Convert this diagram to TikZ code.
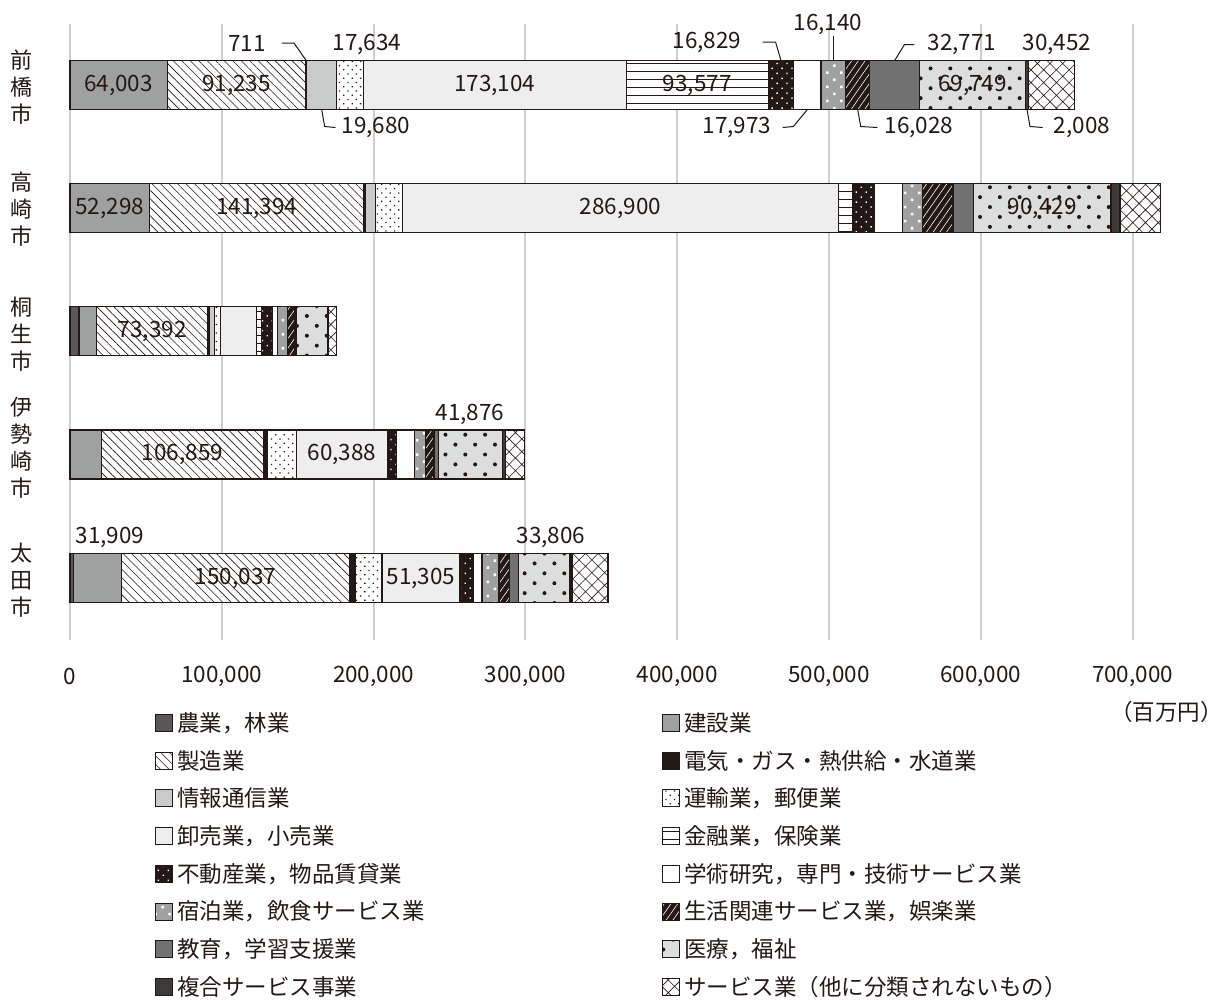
\documentclass[tikz,border=0pt]{standalone}
\usepackage{fontspec}
\setmainfont{Noto Sans CJK JP}
\usetikzlibrary{patterns.meta}

\definecolor{ink}{HTML}{231815}
\definecolor{gridgray}{HTML}{CDCECE}
\definecolor{agrigray}{HTML}{595757}
\definecolor{midgray}{HTML}{9FA0A0}
\definecolor{infogray}{HTML}{C9CACA}
\definecolor{tradegray}{HTML}{EEEEEE}
\definecolor{edugray}{HTML}{727171}
\definecolor{medgray}{HTML}{DCDDDD}
\definecolor{compgray}{HTML}{3E3A39}

\tikzset{
  seg/.style={draw=ink, line width=1.2pt, inner sep=0pt, outer sep=0pt, minimum height=49pt},
  seg1/.style={fill=agrigray},
  seg2/.style={fill=midgray},
  seg3/.style={preaction={fill=white}, pattern={Lines[angle=-45,distance=6pt,line width=0.6pt]}, pattern color=ink},
  seg4/.style={fill=ink},
  seg5/.style={fill=infogray},
  seg6/.style={preaction={fill=white}, pattern={Dots[angle=45,distance=6pt,radius=0.9pt]}, pattern color=ink},
  seg7/.style={fill=tradegray},
  seg8/.style={preaction={fill=white}, pattern={Lines[angle=0,distance=8pt,line width=0.7pt]}, pattern color=ink},
  seg9/.style={preaction={fill=ink}, pattern={Dots[angle=45,distance=7pt,radius=1pt]}, pattern color=white},
  seg10/.style={fill=white},
  seg11/.style={preaction={fill=midgray}, pattern={Dots[angle=45,distance=10pt,radius=1.8pt]}, pattern color=white},
  seg12/.style={preaction={fill=ink}, pattern={Lines[angle=55,distance=5.5pt,line width=0.6pt]}, pattern color=white},
  seg13/.style={fill=edugray},
  seg14/.style={preaction={fill=medgray}, pattern={Dots[angle=45,distance=14pt,radius=2pt]}, pattern color=ink},
  seg15/.style={fill=compgray},
  seg16/.style={preaction={fill=white}, pattern={Hatch[angle=45,distance=9pt,line width=0.6pt]}, pattern color=ink},
  val/.style={font=\fontsize{22.5}{25}\selectfont, text=ink, inner sep=1pt},
  tick/.style={font=\fontsize{22.5}{25}\selectfont, text=ink},
  city/.style={font=\fontsize{22}{27}\selectfont, text=ink, align=center, inner sep=0pt},
  legtext/.style={font=\fontsize{22.5}{25}\selectfont, text=ink, anchor=west, inner sep=0pt},
  leader/.style={draw=ink, line width=1pt},
  gridline/.style={draw=gridgray, line width=2pt}
}

\begin{document}
\begin{tikzpicture}[x=1pt,y=1pt]
	\useasboundingbox (0,0) rectangle (1223,-999);

	% grid and axis
	\foreach \k in {0,...,7}
		\draw[gridline] ({70+151.8*\k},-24) -- ({70+151.8*\k},-640);
	\foreach \k/\t in {0/0,1/{100,000},2/{200,000},3/{300,000},4/{400,000},5/{500,000},6/{600,000},7/{700,000}}
		\node[tick] (tick\k) at ({70+151.8*\k},-676) {\t};
	\node[tick, anchor=east, inner sep=0pt] (unit) at (1223,-712) {（百万円）};

	% bars
	\foreach \c/\yc/\vals in {
		m/85/{0,64.003,91.235,0.711,19.680,17.634,173.104,93.577,16.829,17.973,16.140,16.028,32.771,69.749,2.008,30.452},
		t/208/{0,52.298,141.394,1.0,6.8,17.7,286.9,9.2,14.5,18.4,13.6,19.9,13.6,90.429,6.0,26.7},
		k/331/{5.9,11.6,73.392,1.0,3.4,3.7,23.7,3.7,7.0,3.5,6.2,4.8,1.0,20.8,0.8,5.3},
		i/454.5/{0,20.7,106.859,1.2,1.0,19.3,60.388,0.3,5.4,11.8,7.0,5.9,3.0,41.876,1.9,13.0},
		o/578/{2.1,31.909,150.037,2.7,1.0,17.8,51.305,0.5,8.6,5.4,11.3,7.0,5.9,33.806,1.3,23.7}}{
		\foreach \v [count=\i, remember=\xe as \xs (initially 0)] in \vals {
			\pgfmathsetmacro\xe{\xs+\v}
			\node[seg, style/.expanded=seg\i, minimum width={1.518*\v}] (\c\i) at ({70+1.518*(\xs+\xe)/2},-\yc) {};
		}
	}

	% city names
	\node[city] (cm) at (21,-87) {前\\橋\\市};
	\node[city] (ct) at (21,-209) {高\\崎\\市};
	\node[city] (ck) at (21,-334) {桐\\生\\市};
	\node[city] (ci) at (21,-448) {伊\\勢\\崎\\市};
	\node[city] (co) at (21,-580) {太\\田\\市};

	% values, 前橋市
	\node[val] (v64003) at (m2) {64,003};
	\node[val] (v91235) at (m3) {91,235};
	\node[val] (v173104) at (m7) {173,104};
	\node[val] (v93577) at (m8) {93,577};
	\node[val] (v69749) at (m14) {69,749};
	\node[val] (v711) at (247,-43) {711};
	\node[val] (v17634) at (367,-44.5) {17,634};
	\node[val] (v19680) at (376,-127.5) {19,680};
	\node[val] (v16829) at (707,-42) {16,829};
	\node[val] (v17973) at (737,-127.5) {17,973};
	\node[val] (v16140) at (828,-24) {16,140};
	\node[val] (v16028) at (919,-127.5) {16,028};
	\node[val] (v32771) at (962,-44.5) {32,771};
	\node[val] (v30452) at (1057,-44.5) {30,452};
	\node[val] (v2008) at (1082,-127.5) {2,008};

	\draw[leader] (v711.east) ++(15,0) -- ++(12,0) -- (m4.north);
	\draw[leader] (m5.south) -- ++(3,-17) -- ([xshift=-5pt]v19680.west);
	\draw[leader] (v16829.east) ++(20,0) -- ++(13,0) -- (m9.north);
	\draw[leader] (m10.south) -- ++(-14,-17) -- ([xshift=10pt]v17973.east);
	\draw[leader] (m11.north) -- (m11.north |- v16140.south);
	\draw[leader] (m12.south) -- ++(3,-17) -- ([xshift=-6pt]v16028.west);
	\draw[leader] (v32771.west) ++(-12,0) -- ++(-10,0) -- (m13.north);
	\draw[leader] (m15.south) -- ++(3,-17) -- ([xshift=-10pt]v2008.west);

	% values, other cities
	\node[val] (v52298) at (t2) {52,298};
	\node[val] (v141394) at (t3) {141,394};
	\node[val] (v286900) at (t7) {286,900};
	\node[val] (v90429) at (t14) {90,429};
	\node[val] (v73392) at (k3) {73,392};
	\node[val] (v106859) at (i3) {106,859};
	\node[val] (v60388) at (i7) {60,388};
	\node[val] (v41876) at (470,-414) {41,876};
	\node[val] (v31909) at (110,-537.5) {31,909};
	\node[val] (v150037) at (o3) {150,037};
	\node[val] (v51305) at (o7) {51,305};
	\node[val] (v33806) at (551,-537.5) {33,806};

	% legend
	\foreach \t [count=\i] in {農業，林業, 建設業, 製造業, 電気・ガス・熱供給・水道業, 情報通信業, 運輸業，郵便業, 卸売業，小売業, 金融業，保険業, 不動産業，物品賃貸業, 学術研究，専門・技術サービス業, 宿泊業，飲食サービス業, 生活関連サービス業，娯楽業, 教育，学習支援業, 医療，福祉, 複合サービス事業, サービス業（他に分類されないもの）}{
		\pgfmathsetmacro\lx{mod(\i,2)==1 ? 163.5 : 670.5}
		\pgfmathsetmacro\ly{-723-37.7*floor((\i-1)/2)}
		\node[seg, style/.expanded=seg\i, minimum width=17pt, minimum height=17pt, line width=0.9pt] (key\i) at (\lx,\ly) {};
		\node[legtext] (lab\i) at ([xshift=5pt]key\i.east) {\t};
	}
\end{tikzpicture}
\end{document}
